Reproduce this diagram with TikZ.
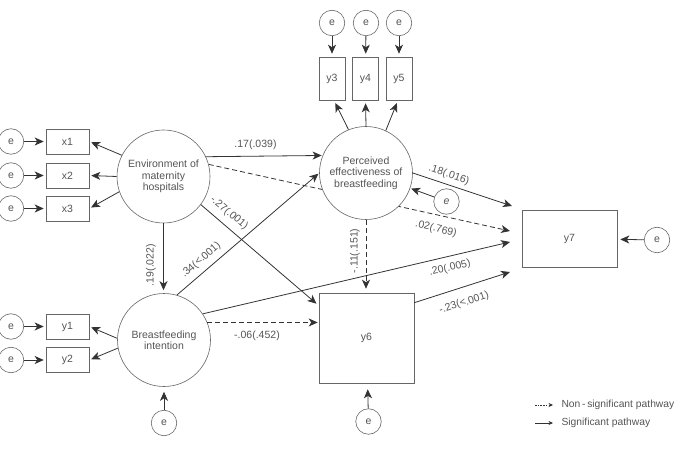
\documentclass[tikz,border=0pt]{standalone}
\usepackage{fontspec}
\setmainfont{Liberation Sans}
\usetikzlibrary{arrows.meta,calc}
\pgfdeclarelayer{bg}
\pgfsetlayers{bg,main}
\definecolor{ln}{HTML}{333333}
\definecolor{shp}{HTML}{666666}
\definecolor{txt}{HTML}{555555}
\begin{document}
\begin{tikzpicture}[x=1pt,y=-1pt,
 every node/.style={text=txt,font=\fontsize{10.5}{11.5}\selectfont},
 lat/.style={circle,draw=shp,line width=0.6pt,fill=white,minimum size=93pt,inner sep=0pt,align=center},
 err/.style={circle,draw=shp,line width=0.6pt,fill=white,minimum size=25.5pt,inner sep=0pt},
 obs/.style={draw=shp,line width=0.6pt,fill=white,inner sep=0pt},
 smallbox/.style={obs,minimum width=43pt,minimum height=25pt},
 tallbox/.style={obs,minimum width=26pt,minimum height=43pt},
 sig/.style={draw=ln,line width=0.8pt,-{Stealth[length=9pt,width=8pt,inset=2.5pt]}},
 nsig/.style={sig,dash pattern=on 5pt off 3pt},
 lab/.style={inner sep=0pt},
 legtxt/.style={anchor=west,font=\fontsize{10.3}{12}\selectfont},
]
\useasboundingbox (0,0) rectangle (675,449);

% latent variables
\node[lat] (env) at (163.5,176.5) {Environment of\\maternity\\hospitals};
\node[lat] (per) at (366,173) {Perceived\\effectiveness of\\breastfeeding};
\node[lat] (bfi) at (164,340) {Breastfeeding\\intention};

% observed
\node[smallbox] (x1) at (67.5,141.5) {x1};
\node[smallbox] (x2) at (67.5,175.5) {x2};
\node[smallbox] (x3) at (67.5,208.5) {x3};
\node[smallbox] (y1) at (67.5,326.5) {y1};
\node[smallbox] (y2) at (67.5,360) {y2};
\node[tallbox] (y3) at (332,78.5) {y3};
\node[tallbox] (y4) at (365.5,78.5) {y4};
\node[tallbox] (y5) at (399,78.5) {y5};
\node[obs,minimum width=95pt,minimum height=90pt] (y6) at (366.5,338) {y6};
\node[obs,minimum width=95pt,minimum height=57pt] (y7) at (569.5,238.5) {y7};

% errors
\node[err] (e1) at (11,141.5) {e};
\node[err] (e2) at (11,175.5) {e};
\node[err] (e3) at (11,208.5) {e};
\node[err] (e4) at (11,326.5) {e};
\node[err] (e5) at (11,360) {e};
\node[err] (e6) at (332,23) {e};
\node[err] (e7) at (366,23) {e};
\node[err] (e8) at (399,23) {e};
\node[err] (e9) at (446.5,201.5) {\itshape e};
\node[err] (e10) at (657,240) {e};
\node[err] (e11) at (164,423) {e};
\node[err] (e12) at (368.5,421.5) {e};

% free ends near y7
\coordinate (t1) at (512,206);
\coordinate (t2) at (510,231);
\coordinate (t3) at (510,242);
\coordinate (t4) at (510,272);
\coordinate (c27) at (318,305);
\coordinate (c23) at ($(y6.north east)+(0,10)$);

% dashed path passing behind the perceived circle
\begin{pgfonlayer}{bg}
\draw[nsig] (env.15.5) -- (t2);
\end{pgfonlayer}

% measurement paths
\draw[sig,shorten >=2pt] (env.153) -- (x1.east);
\draw[sig,shorten >=2pt] (env.180) -- (x2.east);
\draw[sig,shorten >=2pt] (env.199) -- (x3.east);
\draw[sig,shorten >=2pt] (bfi.178) -- (y1.east);
\draw[sig,shorten >=2pt] (bfi.190) -- (y2.east);
\draw[sig,shorten >=3pt] (per.112) -- ($(y3.south)+(2,0)$);
\draw[sig,shorten >=3pt] (per.90) -- (y4.south);
\draw[sig,shorten >=3pt] (per.65) -- ($(y5.south)+(-1,0)$);

% error paths
\draw[sig,shorten >=2pt] (e1) -- (x1);
\draw[sig,shorten >=2pt] (e2) -- (x2);
\draw[sig,shorten >=2pt] (e3) -- (x3);
\draw[sig,shorten >=2pt] (e4) -- (y1);
\draw[sig,shorten >=2pt] (e5) -- (y2);
\draw[sig,shorten >=3pt] (e6) -- (y3);
\draw[sig,shorten >=3pt] (e7) -- (y4);
\draw[sig,shorten >=3pt] (e8) -- (y5);
\draw[sig,shorten >=1pt] (e9) -- (per.-19.2);
\draw[sig,shorten >=3pt] (e10) -- (y7);
\draw[sig,shorten >=5pt] (e11) -- (bfi);
\draw[sig,shorten >=6pt] (e12) -- (y6);

% structural paths
\draw[sig,shorten >=1pt] (env.25.5) -- (per.158.6);
\draw[sig,shorten >=3pt] (env.south) -- (env.south |- bfi.north);
\draw[sig,shorten >=1pt] (bfi.74) -- (per.west);
\draw[sig,shorten >=2pt] (env.-37.6) -- (c27);
\draw[nsig,shorten >=4pt] (per.south) -- (per.south |- y6.north);
\draw[nsig,shorten >=1pt] (bfi.22.8) -- (bfi.22.8 -| y6.west);
\draw[sig] (bfi.34.7) -- (t3);
\draw[sig] (per.east) -- (t1);
\draw[sig] (c23) -- (t4);

% labels
\node[lab] (l17) at (255.5,145) {.17(.039)};
\node[lab,rotate=90] (l19) at (151,265) {.19(.022)};
\node[lab,rotate=41] (l34) at (201,260) {.34(<.001)};
\node[lab,rotate=-40] (l27) at (229,213) {-.27(.001)};
\node[lab,rotate=90] (l11) at (355,251) {-.11(.151)};
\node[lab,rotate=-18.5] (l18) at (449,175) {.18(.016)};
\node[lab,rotate=-13.5] (l02) at (436,229) {.02(.769)};
\node[lab,rotate=13] (l20) at (450,268) {.20(.005)};
\node[lab,rotate=18] (l23) at (464,303) {-.23(<.001)};
\node[lab] (l06) at (257,336) {-.06(.452)};

% legend
\coordinate (la1) at (535,405);
\coordinate (lb1) at (553,405);
\coordinate (la2) at (535,423);
\coordinate (lb2) at (553,423);
\draw[draw=ln,line width=0.6pt,dash pattern=on 1.5pt off 1.2pt,-{Stealth[length=4.5pt,width=4pt]}] (la1) -- (lb1);
\draw[draw=ln,line width=0.6pt,-{Stealth[length=4.5pt,width=4pt]}] (la2) -- (lb2);
\node[legtxt] (lt1) at (558,405) {Non\,-\,significant pathway};
\node[legtxt] (lt2) at (558,423) {Significant pathway};
\end{tikzpicture}
\end{document}
